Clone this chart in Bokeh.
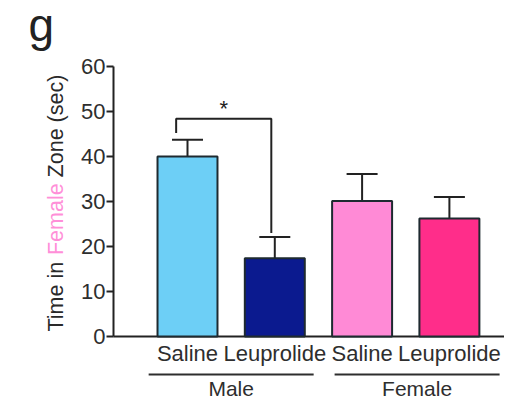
from math import pi
from bokeh.plotting import figure
from bokeh.models import Range1d, LinearAxis, FixedTicker, Whisker, ColumnDataSource, TeeHead
from bokeh.core.properties import value
from bokeh.embed import file_html
from bokeh.resources import INLINE

# ---- data ----
conditions = ["Saline", "Leuprolide", "Saline", "Leuprolide"]
groups = ["Male", "Female"]
group_of_bar = [0, 0, 1, 1]
means = [40.0, 17.4, 30.1, 26.2]
upper = [43.7, 22.1, 36.1, 31.0]
lower = [36.9, 13.6, 24.5, 21.7]
bar_colors = ["#6dcff6", "#0b1a8f", "#ff8ad6", "#ff2d8a"]
y_ticks = [0, 10, 20, 30, 40, 50, 60]
sig_pair = (0, 1)
sig_label = "*"
panel_letter = "g"
ylabel_parts = ["Time in", "Female", "Zone (sec)"]
ylabel_colors = ["#2a2a2a", "#ff8fd8", "#2a2a2a"]

FONT = "Liberation Sans"
INK = "#222222"
TXT = "#2e2e2e"

# layout (pixels)
W_FIG, H_FIG = 504, 400
AXIS_PX = 113         # y axis position
PX_PER_X = 87.3       # pixels per category
PX_PER_Y = 4.5        # pixels per second
X0_PX = 187           # pixel of first category centre
Y0_PX = 336           # pixel of y = 0
FIX = 0.28            # baseline correction (em)

x_start = -X0_PX / PX_PER_X
x_end = x_start + W_FIG / PX_PER_X
y_end = Y0_PX / PX_PER_Y
y_start = -(H_FIG - Y0_PX) / PX_PER_Y


def px_x(px):
    return x_start + px / PX_PER_X


def px_y(py):
    return (Y0_PX - py) / PX_PER_Y


# Arial / Liberation Sans advance widths (em)
W = {"T": .611, "i": .222, "m": .833, "e": .556, " ": .278, "n": .556, "F": .611,
     "a": .556, "l": .222, "Z": .611, "o": .556, "(": .333, "s": .5, "c": .5, ")": .333}


def text_width(s, size):
    return sum(W.get(ch, .556) for ch in s) * size


xs = list(range(len(means)))

p = figure(width=W_FIG, height=H_FIG, output_backend="svg", toolbar_location=None,
           x_range=Range1d(x_start, x_end), y_range=Range1d(y_start, y_end),
           x_axis_location=None, y_axis_location=None,
           min_border_left=0, min_border_right=0, min_border_top=0, min_border_bottom=0)
p.outline_line_color = None
p.grid.visible = False
p.background_fill_color = "white"
p.border_fill_color = "white"

yax = LinearAxis(ticker=FixedTicker(ticks=y_ticks), bounds=(0, 60),
                 fixed_location=px_x(AXIS_PX),
                 axis_line_width=2, axis_line_color=INK,
                 major_tick_line_width=2, major_tick_line_color=INK,
                 major_tick_out=7, major_tick_in=0, minor_tick_line_color=None,
                 major_label_text_font_size="22px", major_label_text_font=FONT,
                 major_label_text_color=TXT, major_label_standoff=1)
p.add_layout(yax, "left")

# baseline (x axis line) from the y axis to the right edge
p.segment(x0=[px_x(AXIS_PX)], y0=[0], x1=[x_end], y1=[0], line_color=INK, line_width=2)

# bars
p.vbar(x=xs, top=means, bottom=0, width=0.687, fill_color=bar_colors,
       line_color="#1e2a30", line_width=2)

# error bars
src = ColumnDataSource(dict(x=xs, upper=upper, lower=lower))
p.add_layout(Whisker(base="x", upper="upper", lower="lower", source=src,
                     line_width=2, line_color=INK,
                     upper_head=TeeHead(size=31, line_width=2, line_color=INK),
                     lower_head=TeeHead(size=31, line_width=2, line_color=INK)))

# significance bracket
a, b = sig_pair
lx = xs[a] - 0.13
rx = xs[b] - 0.04
top = 48.4
p.line(x=[lx, lx, rx, rx], y=[upper[a] + 1.5, top, top, upper[b] + 0.9],
       line_color=INK, line_width=2)
p.text(x=[(lx + rx) / 2], y=[px_y(114 - FIX * 22)], text=[sig_label], text_align="center",
       text_baseline="alphabetic", text_font=value(FONT), text_font_size="22px",
       text_color=INK)

# category labels
p.text(x=xs, y=[px_y(359 - FIX * 22)] * len(xs), text=conditions, text_align="center",
       text_baseline="alphabetic", text_font=value(FONT), text_font_size="22px",
       text_color=TXT)

# group lines and labels
shift = [0.0, 0.13]
gc = []
for g in range(len(groups)):
    members = [x for x, gi in zip(xs, group_of_bar) if gi == g]
    gc.append(sum(members) / len(members) + shift[g])
half = 0.945
p.segment(x0=[c - half for c in gc], y0=[px_y(374)] * len(gc),
          x1=[c + half for c in gc], y1=[px_y(374)] * len(gc),
          line_color=TXT, line_width=2)
p.text(x=gc, y=[px_y(394 - FIX * 21)] * len(gc), text=groups, text_align="center",
       text_baseline="alphabetic", text_font=value(FONT), text_font_size="21px",
       text_color=TXT)

# y label (multi-colour); parts are placed one after another, separated by a space
ysz = 21.5
space = text_width(" ", ysz)
pos_px = 331
lx_list, ly_list, lt_list, lc_list = [], [], [], []
for part, col in zip(ylabel_parts, ylabel_colors):
    lx_list.append(px_x(55))
    ly_list.append(px_y(pos_px))
    lt_list.append(part)
    lc_list.append(col)
    pos_px -= text_width(part, ysz) + space
p.text(x=lx_list, y=ly_list, text=lt_list, text_color=lc_list, angle=pi / 2,
       text_align="left", text_baseline="middle", text_font=value(FONT),
       text_font_size=f"{ysz}px")

# panel letter
p.text(x=[px_x(28)], y=[px_y(37 - FIX * 46)], text=[panel_letter],
       text_align="left", text_baseline="alphabetic", text_font=value(FONT),
       text_font_size="46px", text_color=INK)

open("out.html", "w").write(file_html(p, INLINE))
